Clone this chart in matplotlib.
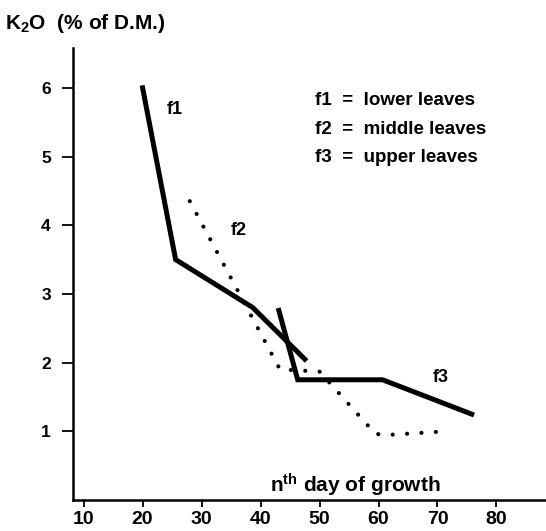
import matplotlib
matplotlib.use('Agg')
import matplotlib.pyplot as plt

plt.rcParams['font.family'] = ['Liberation Sans', 'DejaVu Sans']
plt.rcParams['font.weight'] = 'bold'
plt.rcParams['mathtext.fontset'] = 'custom'
plt.rcParams['mathtext.rm'] = 'Liberation Sans:bold'
plt.rcParams['mathtext.it'] = 'Liberation Sans:bold'
plt.rcParams['mathtext.bf'] = 'Liberation Sans:bold'

# K2O content of the leaves by day of growth
day_f1 = [20, 25.6, 38.7, 47.5]
k2o_f1 = [6.0, 3.5, 2.8, 2.05]

day_f2 = [28, 43.3, 50, 59.5, 62, 71.5]
k2o_f2 = [4.35, 1.9, 1.87, 0.96, 0.95, 1.0]

day_f3 = [43.1, 46.3, 60.7, 75.8]
k2o_f3 = [2.76, 1.75, 1.75, 1.25]

x_ticks = [10, 20, 30, 40, 50, 60, 70, 80]
y_ticks = [1, 2, 3, 4, 5, 6]
key_lines = ['f1  =  lower leaves', 'f2  =  middle leaves', 'f3  =  upper leaves']

fig = plt.figure(figsize=(5.46, 5.31), dpi=100)
ax = fig.add_axes([73 / 546, 31 / 531, 473 / 546, 452 / 531])

ax.plot(day_f1, k2o_f1, color='black', lw=3.6, solid_joinstyle='miter')
ax.plot(day_f3, k2o_f3, color='black', lw=3.6, solid_joinstyle='miter')
ax.plot(day_f2, k2o_f2, color='black', lw=3.0,
        linestyle=(0, (0.01, 3.45)), dash_capstyle='round')

ax.set_xlim(8.2, 88.4)
ax.set_ylim(0, 6.58)
ax.set_xticks(x_ticks)
ax.set_yticks(y_ticks)
ax.tick_params(axis='x', length=5, width=1.3, pad=3, labelsize=14)
ax.tick_params(axis='y', length=8, width=1.3, pad=8, labelsize=12.5)

for side in ['top', 'right']:
    ax.spines[side].set_visible(False)
for side in ['left', 'bottom']:
    ax.spines[side].set_linewidth(1.8)

# curve names
ax.text(25.4, 5.68, 'f1', fontsize=13, ha='center', va='center')
ax.text(36.3, 3.92, 'f2', fontsize=13, ha='center', va='center')
ax.text(70.6, 1.79, 'f3', fontsize=13, ha='center', va='center')

# key
for i, line in enumerate(key_lines):
    ax.text(49.2, 5.81 - i * 0.41, line, fontsize=13.5, ha='left', va='center')

ax.text(56.0, 0.11, r'n$^{\mathrm{th}}$ day of growth', fontsize=15,
        ha='center', va='baseline')

fig.text(5 / 546, (531 - 29) / 531, r'K$_2$O  (% of D.M.)', fontsize=15,
         ha='left', va='baseline')

fig.savefig('out.png', dpi=100)
